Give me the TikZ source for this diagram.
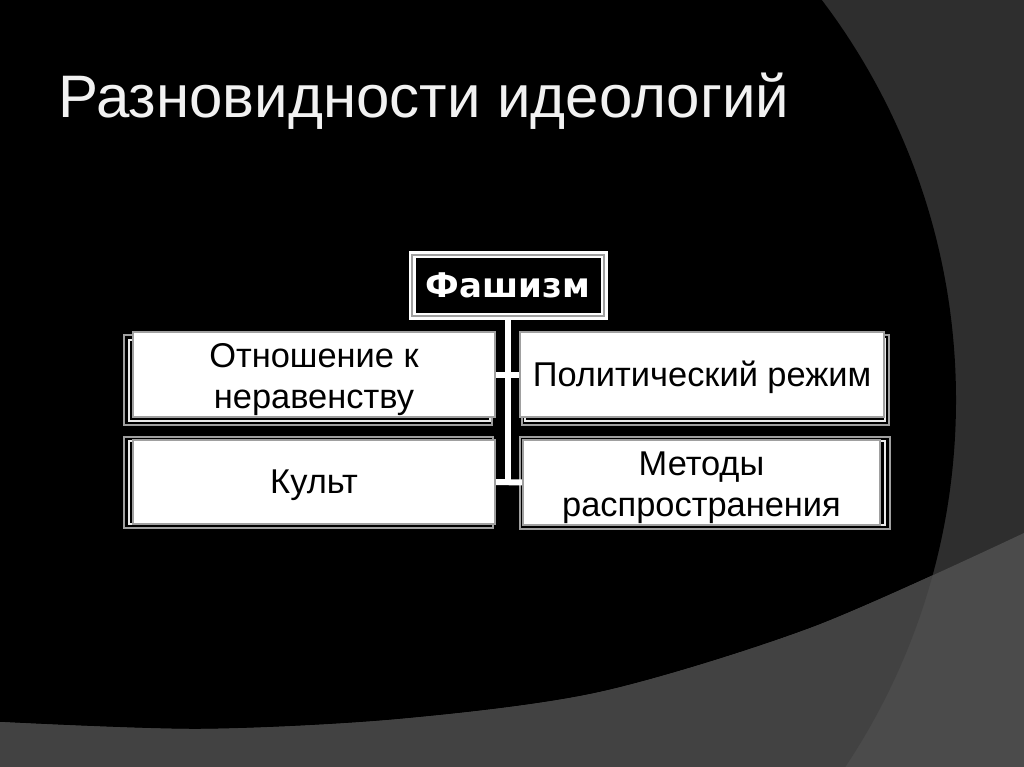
\documentclass[tikz,border=0pt]{standalone}
\usepackage{fontspec}
\setmainfont{Liberation Sans}
\newfontfamily\fashfont{DejaVu Sans}
\definecolor{bgA}{HTML}{2E2E2E}
\definecolor{bandA}{HTML}{424242}
\definecolor{bandB}{HTML}{4B4B4B}
\definecolor{titlec}{HTML}{F2F2F2}
\definecolor{frameg}{HTML}{A0A0A0}
\pgfdeclarelayer{back}
\pgfsetlayers{back,main}
\tikzset{
  outerframe/.style={draw=frameg, line width=2pt},
  innerframe/.style={draw=white!92!black, line width=2pt},
  wbox/.style={draw=frameg, line width=1.5pt, fill=white, inner sep=0pt},
  boxtext/.style={text=black, align=center, inner sep=0pt, font=\fontsize{34.4}{41}\selectfont},
  conn/.style={draw=white, line width=6pt},
  fashbox/.style={draw=white, double=frameg, double distance=2pt, line width=2.5pt,
    fill=black, text=white, inner sep=0pt, font=\fashfont\bfseries\fontsize{34}{40}\selectfont}
}
\begin{document}
\begin{tikzpicture}[x=1pt,y=-1pt]
\useasboundingbox (0,0) rectangle (1024,767);
\begin{pgfonlayer}{back}
  \fill[bgA] (0,0) rectangle (1024,767);
  \begin{scope}
    \clip (0,0) rectangle (1024,767);
    \fill[black] (293,400) circle[radius=663];
  \end{scope}
  \begin{scope}
    \clip plot[smooth] coordinates {(0,722) (200,729) (400,719) (600,692) (813,627) (1024,533)} -- (1024,767) -- (0,767) -- cycle;
    \fill[bandB] (0,0) rectangle (1024,767);
    \fill[bandA] (293,400) circle[radius=663];
  \end{scope}
  % frames behind the white boxes
  \draw[outerframe] (124,335) rectangle (492,425);
  \draw[innerframe] (129,339.5) rectangle (490,421);
  \draw[outerframe] (124,437) rectangle (493,528);
  \draw[innerframe] (129,441) rectangle (491,524);
  \draw[outerframe] (522,335) rectangle (889,425);
  \draw[innerframe] (525,339) rectangle (885,421);
  \draw[outerframe] (520,437) rectangle (890,529);
  \draw[innerframe] (524,441) rectangle (885,525);
\end{pgfonlayer}

\node[anchor=base west, inner sep=0pt, text=titlec, font=\fontsize{60}{62}\selectfont] (title) at (58,118) {Разновидности идеологий};

\node[fashbox, minimum width=192pt, minimum height=61.5pt] (fash) at (508,285.25) {Фашизм};

\node[wbox, minimum width=362pt, minimum height=85pt,
  label={[boxtext, yshift=-5pt]center:Отношение к\\неравенству}] (b1) at (314,374.5) {};
\node[wbox, minimum width=364pt, minimum height=85pt,
  label={[boxtext, yshift=-3pt]center:Политический режим}] (b2) at (702,374.5) {};
\node[wbox, minimum width=362pt, minimum height=84pt,
  label={[boxtext, yshift=-3pt]center:Культ}] (b3) at (314,482) {};
\node[wbox, minimum width=357pt, minimum height=85pt,
  label={[boxtext, yshift=-5pt]center:Методы\\распространения}] (b4) at (701.5,482.5) {};

\begin{pgfonlayer}{back}
  \draw[conn] (fash.south) -- (fash.south |- b3.east);
  \draw[conn] (b1.east) -- (b2.west);
  \draw[conn] (b3.east) -- (b4.west);
\end{pgfonlayer}
\end{tikzpicture}
\end{document}
